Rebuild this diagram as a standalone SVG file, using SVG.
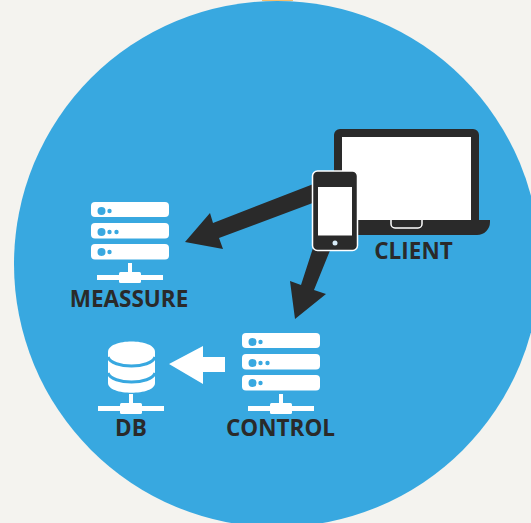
<svg xmlns="http://www.w3.org/2000/svg" width="531" height="523" viewBox="0 0 531 523">
<defs>
<style>
.lbl{font-family:"Open Sans","Liberation Sans",sans-serif;font-weight:700;font-size:22.500px;fill:#2a2a2a;text-anchor:middle}
.w{fill:#fff}.b{fill:#38a8e0}.d{fill:#2a2a2a}
</style>
<g id="srv">
<rect class="w" x="0" y="0" width="78" height="15" rx="4"/>
<rect class="w" x="0" y="21" width="78" height="15.500" rx="4"/>
<rect class="w" x="0" y="42" width="78" height="15.500" rx="4"/>
<circle class="b" cx="10.500" cy="9" r="4"/><circle class="b" cx="18.500" cy="9" r="2.200"/>
<circle class="b" cx="10.500" cy="30" r="4"/><circle class="b" cx="18.500" cy="30" r="2.200"/><circle class="b" cx="25.500" cy="30" r="2.200"/>
<circle class="b" cx="10.500" cy="50" r="4"/><circle class="b" cx="18.500" cy="50" r="2.200"/>
</g>
<g id="net">
<rect class="w" x="-2" y="-12" width="4" height="14"/>
<rect class="w" x="-33" y="0" width="66" height="5"/>
<rect class="w" x="-11" y="-3" width="22" height="11" rx="1.500"/>
</g>
</defs>
<rect width="531" height="523" fill="#f4f3ef"/>
<rect x="262" y="0" width="31" height="1" fill="#f2a83a" opacity="0.700"/>
<circle class="b" cx="277" cy="264" r="263"/>
<g id="connectors">
<polygon class="d" points="316,183 318,201 219,238 223,249 185,242 210,213 213,223"/>
<polygon class="d" points="313,248 331,248 314,290 326,294 295,319 290,281 301,285"/>
<polygon class="w" points="169,364 203,346 203,357 225,357 225,372 203,372 203,384"/>
</g>
<g id="client">
<path class="d" d="M334,222V135a6,6 0 0 1 6,-6H473a6,6 0 0 1 6,6V220H490V222a13,13 0 0 1 -13,13H340Z"/>
<rect class="w" x="342" y="137" width="129" height="83"/>
<path d="M391,220V224a4,4 0 0 0 4,4H418a4,4 0 0 0 4,-4V220" fill="#2a2a2a" stroke="#fff" stroke-width="1.500"/>
<rect x="312.500" y="171" width="45" height="79.500" rx="5" class="d" stroke="#fff" stroke-width="1.500"/>
<rect class="w" x="318" y="187" width="34" height="48.500"/>
<circle cx="335" cy="243" r="2.500" fill="#d8ecf8"/>
<text class="lbl" x="413.500" y="259">CLIENT</text>
</g>
<g id="measure">
<use href="#srv" x="91" y="202"/>
<use href="#net" x="130" y="275"/>
<text class="lbl" x="129" y="307">MEASSURE</text>
</g>
<g id="control">
<use href="#srv" x="242" y="333"/>
<use href="#net" x="281" y="406"/>
<text class="lbl" x="280.500" y="436">CONTROL</text>
</g>
<g id="db">
<path class="w" d="M108,352C108,338 155,338 155,352V383C155,396 108,396 108,383Z"/>
<path d="M108,357C112,369 151,369 155,357M108,373C112,385 151,385 155,373" fill="none" stroke="#38a8e0" stroke-width="3"/>
<use href="#net" x="131" y="406"/>
<text class="lbl" x="131" y="436">DB</text>
</g>
</svg>
